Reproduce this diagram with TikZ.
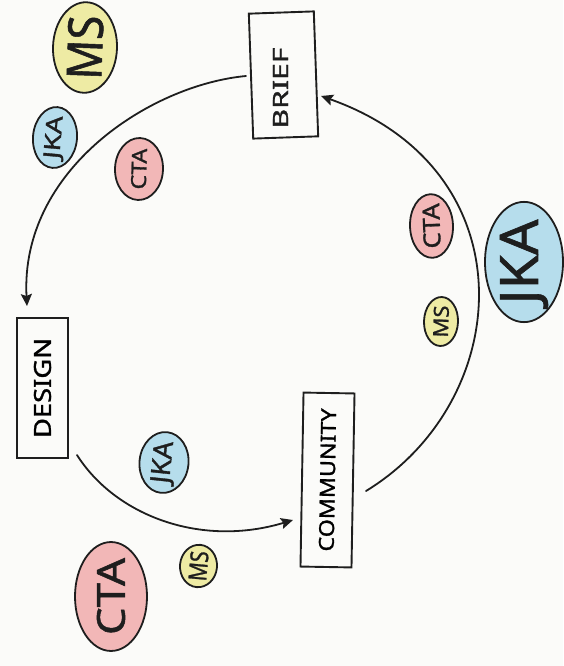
\documentclass[tikz,border=0pt]{standalone}
\usepackage{fontspec}
\setmainfont{Noto Sans}[FakeBold=1.2]
\usetikzlibrary{shapes.geometric,arrows.meta,calc}

\definecolor{ink}{HTML}{1E1E1E}
\definecolor{paper}{HTML}{FBFBF9}
\definecolor{memo}{HTML}{EEEBA4}
\definecolor{sky}{HTML}{B6DDEC}
\definecolor{rose}{HTML}{F2B7B7}

% stretch a label to a given length (along the text) and cap height
\newcommand\fitlabel[3]{\resizebox{#1pt}{#2pt}{\bfseries #3}}

\tikzset{
  stagebox/.style={draw=ink, line width=1.9pt, rectangle, inner sep=0pt, rotate=90},
  stagetext/.style={inner sep=0pt, rotate=90, text=ink},
  tag/.style={ellipse, draw=ink, line width=1.8pt, inner sep=0pt, text=ink},
  memotag/.style={tag, fill=memo},
  skytag/.style={tag, fill=sky},
  rosetag/.style={tag, fill=rose},
  flow/.style={draw=ink, line width=1.8pt, line cap=round,
    -{Stealth[length=12pt,width=11pt,inset=2pt]}},
}

\begin{document}
\begin{tikzpicture}[x=1pt,y=-1pt]
  \fill[paper] (0,0) rectangle (563,666);
  \useasboundingbox (0,0) rectangle (563,666);

  % the three stages of the cycle
  \node[stagebox, rotate=2, minimum width=125pt, minimum height=65pt] (brief) at (283.5,75) {};
  \node[stagetext] (brieftext) at (280.5,88) {\fitlabel{81}{15}{BRIEF}};
  \node[stagebox, minimum width=140pt, minimum height=51pt] (design) at (42.5,388)
    {\fitlabel{100}{17}{DESIGN}};
  \node[stagebox, rotate=-1, minimum width=174pt, minimum height=51pt] (community) at (327.5,480)
    {\fitlabel{143}{15}{COMMUNITY}};

  % connectors between the stages
  \draw[flow] ($(brief.center)+(-37.5,1)$)
    .. controls (150,85) and (20,170) .. ($(design.center)+(-15.5,-82)$);
  \draw[flow] ($(design.center)+(34.5,67)$)
    .. controls (115,515) and (200,548) .. ($(community.center)+(-34.5,40)$);
  \draw[flow] ($(community.center)+(38.5,11)$)
    .. controls (515,400) and (530,170) .. ($(brief.center)+(37.5,21)$);

  % who is involved at each step
  \node[memotag, rotate=88, minimum width=89pt, minimum height=64pt] (msbig) at (85,47.5)
    {\fitlabel{64}{35}{MS}};
  \node[skytag, rotate=85, minimum width=61pt, minimum height=44pt] (jkatop) at (55,137.5)
    {\fitlabel{43}{16}{JKA}};
  \node[rosetag, rotate=88, minimum width=62pt, minimum height=48pt] (ctatop) at (139,169)
    {\fitlabel{41}{15}{CTA}};

  \node[rosetag, rotate=92, minimum width=56pt, minimum height=43pt] (ctaright) at (431.5,226)
    {\fitlabel{45}{17}{CTA}};
  \node[skytag, rotate=90, minimum width=111pt, minimum height=78pt] (jkabig) at (524,262)
    {\fitlabel{85}{38}{JKA}};
  \node[memotag, rotate=88, minimum width=49pt, minimum height=34pt] (msright) at (441,321.5)
    {\fitlabel{32}{15}{MS}};

  \node[skytag, rotate=84, minimum width=61pt, minimum height=49pt] (jkamid) at (164,462.5)
    {\fitlabel{42}{19}{JKA}};
  \node[memotag, rotate=85, minimum width=42pt, minimum height=37pt] (msbottom) at (198.5,566)
    {\fitlabel{30}{18}{MS}};
  \node[rosetag, rotate=90, minimum width=107pt, minimum height=72pt] (ctabig) at (111,596.5)
    {\fitlabel{77}{28}{CTA}};
\end{tikzpicture}
\end{document}
